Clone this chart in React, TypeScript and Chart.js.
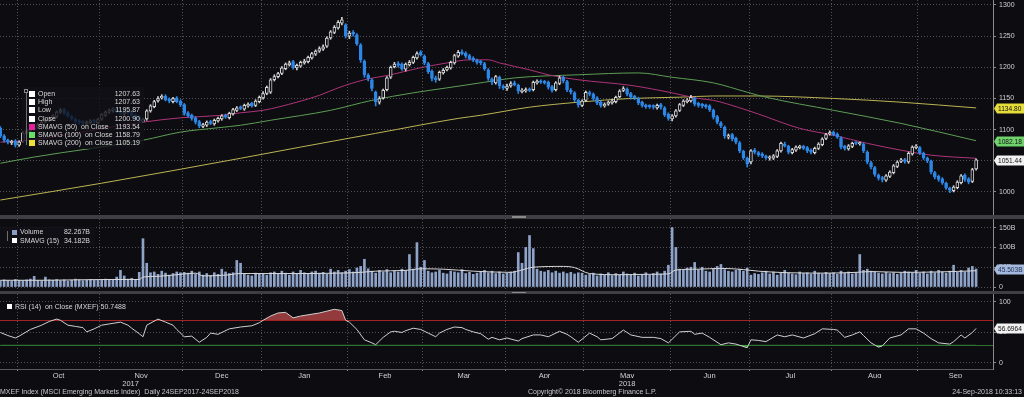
import React, { useEffect, useRef } from 'react';
import { Chart, registerables } from 'chart.js';

Chart.register(...registerables);

// ---------------- calendar (trading weekdays per month, Sep-2017 .. Sep-2018) ----------------
const tradingDaysPerMonth = [5, 22, 22, 21, 23, 20, 22, 21, 23, 21, 22, 23, 16];
const lastMonthWeekdays = 20;
const monthLabels = ['Oct', 'Nov', 'Dec', 'Jan', 'Feb', 'Mar', 'Apr', 'May', 'Jun', 'Jul', 'Aug', 'Sep'];
const yearLabels = ['2017', '2018'];

// ---------------- price (OHLC, daily) ----------------
const opens = [
  1102,1090,1083,1079,1082,
  1075,1081,1094,1098,1101,1104,1108,1113,1116,1119,1121,1128,1132,1127,1121,1117,1114,1113,1109,1111,1115,1111,
  1117,1123,1128,1131,1133,1130,1125,1129,1128,1123,1120,1113,1117,1130,1137,1146,1151,1154,1149,1145,1151,1146,
  1140,1127,1123,1119,1113,1105,1107,1113,1109,1114,1117,1123,1119,1125,1131,1136,1133,1138,1142,1139,1145,
  1151,1158,1160,1180,1185,1190,1198,1204,1209,1199,1202,1207,1209,1215,1221,1226,1229,1234,1247,1256,1263,1271,1268,
  1250,1256,1252,1236,1210,1187,1180,1160,1144,1151,1164,1184,1201,1206,1205,1197,1204,1208,1215,1224,
  1218,1206,1194,1183,1181,1191,1196,1199,1207,1218,1225,1223,1219,1215,1211,1209,1206,1196,1181,1175,1184,1169,
  1166,1170,1175,1171,1161,1162,1165,1164,1175,1178,1177,1176,1169,1164,1174,1184,1177,1163,1159,1147,1139,
  1147,1159,1157,1151,1144,1138,1141,1143,1145,1153,1163,1165,1158,1153,1150,1144,1138,1138,1138,1135,1140,1135,1125,
  1117,1122,1131,1139,1145,1146,1150,1142,1140,1139,1138,1131,1121,1111,1104,1088,1092,1086,1079,1065,1054,
  1048,1067,1063,1061,1057,1054,1054,1057,1066,1077,1073,1063,1067,1071,1073,1071,1067,1063,1070,1076,1086,1093,
  1096,1093,1087,1073,1069,1073,1079,1077,1077,1064,1047,1039,1027,1023,1019,1025,1031,1041,1049,1052,1048,1061,1071,
  1071,1062,1054,1049,1031,1025,1021,1014,1006,1002,1007,1015,1027,1021,1017,1037,
];
const highs = [
  1105,1092,1085,1083,1084,
  1082,1097,1100,1103,1105,1110,1114,1118,1120,1124,1130,1134,1134,1129,1123,1119,1116,1115,1114,1116,1117,1118,
  1126,1130,1133,1135,1135,1132,1130,1131,1130,1125,1122,1118,1132,1140,1147,1153,1156,1156,1151,1152,1153,1148,
  1142,1129,1125,1121,1115,1110,1114,1115,1117,1120,1124,1125,1128,1134,1137,1138,1141,1143,1144,1148,1154,
  1161,1170,1182,1188,1192,1201,1207,1210,1211,1205,1210,1213,1218,1224,1228,1233,1236,1249,1259,1267,1275,1280,1270,
  1258,1259,1254,1238,1212,1190,1182,1162,1153,1165,1185,1202,1208,1209,1207,1207,1211,1218,1225,1227,
  1220,1208,1196,1186,1194,1198,1202,1210,1221,1227,1228,1225,1221,1217,1213,1211,1208,1198,1183,1187,1186,1172,
  1173,1177,1178,1173,1166,1167,1167,1178,1180,1180,1179,1178,1171,1177,1186,1186,1179,1166,1161,1149,1148,
  1162,1162,1159,1153,1146,1143,1146,1149,1154,1164,1169,1167,1160,1155,1152,1146,1141,1140,1140,1141,1142,1137,1127,
  1124,1132,1142,1148,1150,1155,1152,1144,1142,1141,1140,1133,1123,1113,1106,1093,1094,1088,1081,1067,1056,
  1068,1070,1065,1063,1059,1058,1060,1068,1080,1080,1075,1070,1074,1075,1075,1073,1069,1072,1079,1087,1094,1098,
  1098,1095,1089,1075,1076,1080,1081,1080,1079,1066,1049,1041,1029,1025,1028,1034,1044,1050,1054,1054,1064,1074,1076,
  1073,1064,1056,1051,1033,1027,1023,1016,1008,1010,1018,1028,1029,1023,1038,1053,
];
const lows = [
  1087,1080,1077,1076,1072,
  1073,1079,1092,1096,1099,1102,1106,1111,1113,1117,1119,1126,1124,1120,1115,1110,1109,1107,1107,1109,1110,1109,
  1115,1121,1126,1128,1127,1124,1123,1125,1120,1116,1111,1111,1115,1128,1135,1144,1149,1146,1143,1143,1143,1137,
  1123,1120,1115,1109,1103,1103,1105,1108,1107,1112,1115,1118,1117,1123,1129,1132,1131,1136,1136,1137,1143,
  1149,1156,1158,1178,1183,1188,1196,1202,1197,1196,1200,1205,1207,1213,1219,1224,1227,1232,1245,1254,1261,1268,1247,
  1246,1250,1235,1208,1184,1178,1162,1138,1141,1149,1162,1182,1199,1200,1195,1194,1202,1206,1213,1218,
  1204,1190,1178,1176,1179,1189,1194,1197,1205,1216,1220,1215,1212,1209,1205,1204,1195,1179,1172,1173,1166,1164,
  1163,1168,1170,1158,1159,1160,1161,1162,1173,1174,1173,1165,1160,1162,1172,1175,1161,1157,1145,1136,1137,
  1145,1154,1147,1140,1136,1136,1139,1141,1143,1151,1161,1154,1149,1148,1140,1136,1134,1134,1133,1133,1133,1121,1115,
  1114,1120,1129,1137,1143,1144,1138,1136,1135,1134,1129,1117,1109,1103,1086,1085,1082,1077,1063,1052,1040,
  1045,1061,1057,1055,1052,1051,1052,1055,1064,1072,1061,1061,1065,1069,1068,1063,1061,1061,1068,1074,1084,1091,
  1090,1086,1069,1067,1067,1071,1076,1075,1063,1045,1037,1025,1019,1016,1017,1023,1029,1039,1047,1046,1046,1059,1069,
  1060,1052,1047,1029,1021,1017,1012,1004,999,1000,1005,1013,1017,1013,1015,1035,
];
const closes = [
  1090,1083,1080,1080,1075,
  1080,1095,1098,1100,1103,1108,1112,1115,1118,1122,1128,1131,1126,1122,1118,1113,1112,1110,1112,1114,1112,1116,
  1124,1128,1130,1132,1129,1126,1128,1127,1122,1118,1114,1116,1130,1138,1145,1150,1152,1148,1146,1150,1145,1140,
  1126,1122,1118,1112,1106,1108,1112,1110,1115,1118,1122,1120,1126,1132,1135,1134,1139,1140,1138,1146,1152,
  1158,1168,1180,1185,1190,1199,1205,1207,1200,1203,1208,1210,1216,1222,1226,1230,1233,1247,1257,1264,1272,1276,1250,
  1255,1253,1238,1212,1188,1182,1166,1145,1150,1163,1183,1200,1205,1203,1198,1205,1208,1216,1222,1220,
  1207,1193,1182,1180,1192,1195,1200,1208,1219,1224,1222,1218,1214,1212,1208,1207,1198,1182,1176,1185,1170,1167,
  1170,1174,1172,1162,1163,1164,1163,1176,1177,1176,1175,1168,1163,1175,1183,1178,1164,1160,1148,1140,1146,
  1160,1157,1150,1143,1139,1140,1144,1146,1152,1162,1166,1157,1152,1151,1143,1139,1137,1137,1136,1139,1136,1124,1118,
  1122,1130,1140,1146,1147,1152,1141,1139,1138,1137,1132,1120,1112,1106,1090,1090,1085,1080,1066,1055,1045,
  1066,1064,1060,1058,1055,1055,1058,1066,1078,1074,1064,1068,1072,1072,1070,1066,1064,1070,1077,1085,1092,1095,
  1092,1088,1072,1070,1074,1078,1078,1078,1066,1048,1040,1028,1022,1020,1026,1032,1042,1048,1051,1049,1062,1072,1073,
  1063,1055,1050,1032,1024,1020,1015,1007,1003,1008,1016,1026,1020,1016,1036,1051.44,
];

// moving averages on close (at these day indexes)
const sma50Idx = [0,6,38,48,59,64,70,79,85,90,97,104,111,119,125,130,133,141,146,154,168,179,186,190,197,202,213,222,231,240,248,260];
const sma50Val = [1080,1082,1112,1119,1123,1127,1131,1144,1155,1167,1180,1188,1198,1207,1212,1212,1207,1196,1188,1180,1171,1159,1150,1147,1135,1125,1102,1091,1078,1067,1059,1054];
const sma100Idx = [0,9,38,48,58,64,72,88,99,110,119,129,137,154,170,179,190,199,204,222,240,260];
const sma100Val = [1046,1056,1083,1096,1103,1107,1115,1131,1147,1159,1167,1176,1183,1188,1191,1184,1175,1160,1152,1131,1110,1082.18];
const sma200Idx = [0,27,64,80,100,122,128,141,154,168,181,190,202,222,240,260];
const sma200Val = [987,1014,1054,1072,1094,1118,1123,1136,1144,1150,1152,1154,1154,1150,1144,1134.8];

// ---------------- volume (billions) ----------------
const volumes = [
  16,18,17,15,19,
  17,16,18,20,27,17,16,25,18,17,19,16,18,15,17,20,18,16,17,19,18,17,
  18,20,17,19,25,42,28,20,22,18,37,122,60,36,38,32,40,35,30,34,38,36,
  37,35,40,33,38,30,34,29,36,32,45,38,34,36,67,60,33,30,28,35,32,
  34,30,36,38,33,40,35,30,38,34,42,36,33,38,40,35,37,32,45,38,42,36,40,
  44,38,48,52,70,46,40,35,42,38,44,36,40,38,45,42,82,45,112,50,
  67,40,36,38,42,35,33,40,38,36,44,34,37,32,35,38,42,36,40,34,38,33,
  35,38,40,87,60,100,130,97,45,40,38,42,36,40,35,38,34,37,33,36,35,
  30,32,35,28,33,30,36,29,34,31,38,33,30,35,28,32,36,30,34,38,33,40,55,
  150,100,45,42,48,50,62,44,50,40,38,46,52,57,44,40,38,42,45,40,48,
  30,34,32,36,40,33,38,30,35,42,36,33,31,38,34,36,32,40,35,33,37,34,
  36,32,40,35,38,33,36,82,42,45,40,38,35,33,37,34,36,32,35,40,38,36,42,
  35,38,33,40,36,42,38,35,40,55,37,42,38,48,52,45.503,
];
const volSmaIdx = [0,10,20,30,37,38,42,48,52,54,60,64,70,80,90,96,100,108,112,118,126,136,139,142,150,153,157,165,172,178,180,186,192,198,202,210,220,228,232,240,250,260];
const volSmaVal = [17,17,18,19,19,25,27,32,35,28,30,34,34,34,35,37,40,42,46,45,40,37,43,50,52,49,34,31,32,33,43,45,47,44,40,36,35,37,39,37,38,41];

// ---------------- RSI (14) ----------------
const rsiIdx = [0,2,4,5,8,11,13,15,16,18,20,22,23,25,27,30,32,34,35,37,38,39,42,44,46,47,49,51,53,55,56,58,61,64,67,69,70,72,74,76,78,80,82,85,87,89,91,92,93,95,97,99,100,102,104,105,107,108,110,112,114,116,117,119,121,123,124,126,128,130,131,133,135,138,139,142,144,146,149,151,152,154,157,159,160,163,166,168,171,174,176,178,181,184,185,187,189,192,194,196,199,200,202,204,207,209,211,214,217,219,222,223,225,227,229,230,232,234,235,237,240,242,244,246,248,250,253,254,256,257,259,260];
const rsiVal = [50,45,41,44,55,62,68,72,70,62,60,58,51,56,62,65,67,62,57,48,43,62,72,67,62,55,43,44,34,42,49,47,56,59,61,66,70,77,82,83,74,77,79,82,85,88,86,70,67,55,38,33,30,42,51,52,50,53,57,55,49,43,49,55,59,58,55,51,48,39,42,38,41,36,40,46,46,43,52,47,43,34,49,43,38,40,54,46,42,42,40,33,51,52,47,49,42,30,33,31,25,38,37,35,46,43,46,41,48,56,55,54,42,46,51,45,33,26,28,41,46,56,56,49,40,33,31,35,46,41,50,56.6964];
const rsiUpper = 70;
const rsiLower = 30;

// ---------------- axis ticks ----------------
const priceTicks = [1000, 1050, 1100, 1150, 1200, 1250, 1300];
const volTicks = [0, 50, 100, 150];
const rsiTicks = [0, 50, 100];

// ---------------- texts ----------------
const priceLegendLabels = ['Open', 'High', 'Low', 'Close', 'SMAVG (50)  on Close', 'SMAVG (100)  on Close', 'SMAVG (200)  on Close'];
const priceLegendValues = ['1207.63', '1207.63', '1195.87', '1200.90', '1193.54', '1158.79', '1105.19'];
const volLegendLabels = ['Volume', 'SMAVG (15)'];
const volLegendValues = ['82.267B', '34.182B'];
const rsiLegend = 'RSI (14)  on Close (MXEF) 50.7488';
const footerLeft = 'MXEF Index (MSCI Emerging Markets Index)  Daily 24SEP2017-24SEP2018';
const footerCenter = 'Copyright\u00A9 2018 Bloomberg Finance L.P.';
const footerRight = '24-Sep-2018 10:33:13';

// ---------------- styling ----------------
const FONT = "'Liberation Sans', Arial, Helvetica, sans-serif";
const BG = '#0c0c11';
const GRID = '#505058';
const AXIS = '#8c8c8c';
const TXT = '#d2d2d2';
const BLUE = '#2d87e6';
const UPC = '#d4d4d4';
const C50 = '#b0347a';
const C100 = '#5e9e56';
const C200 = '#bdb455';
const VOLC = '#8fa3c9';

// ---------------- derived x layout ----------------
const X_MIN = -0.1;
const bounds: number[] = [];
{
  let acc = -0.5;
  tradingDaysPerMonth.forEach((d) => { bounds.push(acc); acc += d; });
}
const monthBounds = bounds.slice(1);
const X_MAX = monthBounds[monthBounds.length - 1] + lastMonthWeekdays;
const monthMids = monthBounds.map((b, k) => (b + (k < monthBounds.length - 1 ? monthBounds[k + 1] : X_MAX)) / 2);
const yearBound = monthBounds[3];
const yearMids = [(X_MIN + yearBound) / 2, (yearBound + X_MAX) / 2];
const key = (v: number) => Number(v).toFixed(3);
const boundSet = new Set(monthBounds.map(key));
const monthLabelMap = new Map(monthMids.map((m, k) => [key(m), monthLabels[k]]));
const yearLabelMap = new Map(yearMids.map((m, k) => [key(m), yearLabels[k]]));

const pts = (xs: number[], ys: number[]) => xs.map((x, k) => ({ x, y: ys[k] }));

function yAxis(min: number, max: number, ticks: number[], fmt: (v: number) => string) {
  return {
    type: 'linear',
    position: 'right',
    min,
    max,
    afterBuildTicks: (s: any) => { s.ticks = ticks.map((v) => ({ value: v })); },
    afterFit: (s: any) => { s.width = 31; s.paddingTop = 0; s.paddingBottom = 0; },
    grid: { color: GRID, lineWidth: 1, drawTicks: true, tickLength: 3, tickColor: AXIS },
    border: { display: true, color: AXIS, dash: [1, 2] },
    ticks: { color: TXT, padding: 3, font: { size: 7, family: FONT }, callback: (v: any) => fmt(Number(v)) },
  };
}

function xGridOnly() {
  return {
    type: 'linear',
    min: X_MIN,
    max: X_MAX,
    offset: false,
    afterBuildTicks: (s: any) => { s.ticks = monthBounds.map((v) => ({ value: v })); },
    afterFit: (s: any) => { s.height = 0; s.paddingLeft = 0; s.paddingRight = 0; },
    grid: { color: GRID, offset: false, drawTicks: false },
    border: { display: false, dash: [1, 2] },
    ticks: { display: false },
  };
}

function tagPlugin(tags: { value: number; text: string; bg: string; fg: string }[]) {
  return {
    id: 'valueTags',
    afterDraw(chart: any) {
      const { ctx, chartArea, scales } = chart;
      ctx.save();
      ctx.font = `6.6px ${FONT}`;
      for (const t of tags) {
        const y = Math.round(scales.y.getPixelForValue(t.value)) + 0.5;
        const x0 = chartArea.right + 1;
        const h = 10;
        ctx.beginPath();
        ctx.moveTo(x0, y);
        ctx.lineTo(x0 + 3, y - h / 2);
        ctx.lineTo(chart.width, y - h / 2);
        ctx.lineTo(chart.width, y + h / 2);
        ctx.lineTo(x0 + 3, y + h / 2);
        ctx.closePath();
        ctx.fillStyle = t.bg;
        ctx.fill();
        ctx.fillStyle = t.fg;
        ctx.textBaseline = 'middle';
        ctx.textAlign = 'left';
        ctx.fillText(t.text, x0 + 4, y + 0.5);
      }
      ctx.restore();
    },
  };
}

const levelPlugin = {
  id: 'rsiLevels',
  beforeDatasetsDraw(chart: any) {
    const { ctx, chartArea: a, scales } = chart;
    const lines: [number, string][] = [[rsiUpper, '#a41f1f'], [rsiLower, '#2f7030']];
    ctx.save();
    for (const [v, c] of lines) {
      const py = Math.round(scales.y.getPixelForValue(v)) + 0.5;
      ctx.strokeStyle = c;
      ctx.lineWidth = 1.2;
      ctx.beginPath();
      ctx.moveTo(a.left, py);
      ctx.lineTo(a.right, py);
      ctx.stroke();
    }
    ctx.restore();
  },
};

const baseOptions = {
  responsive: false,
  animation: false,
  devicePixelRatio: 1,
  events: [],
  layout: { padding: 0 },
  plugins: { legend: { display: false }, tooltip: { enabled: false } },
};

const lastIdx = closes.length - 1;
const isUp = (i: number) => closes[i] >= opens[i];

function priceConfig(): any {
  return {
    type: 'bar',
    data: {
      datasets: [
        { type: 'line', data: pts(sma200Idx, sma200Val), borderColor: C200, borderWidth: 1, pointRadius: 0, cubicInterpolationMode: 'monotone', order: 5 },
        { type: 'line', data: pts(sma100Idx, sma100Val), borderColor: C100, borderWidth: 1, pointRadius: 0, cubicInterpolationMode: 'monotone', order: 4 },
        { type: 'line', data: pts(sma50Idx, sma50Val), borderColor: C50, borderWidth: 1, pointRadius: 0, cubicInterpolationMode: 'monotone', order: 3 },
        {
          type: 'bar',
          data: closes.map((_, i) => ({ x: i, y: [lows[i], highs[i]] })),
          barThickness: 1,
          grouped: false,
          backgroundColor: (c: any) => (isUp(c.dataIndex) ? UPC : BLUE),
          order: 2,
        },
        {
          type: 'bar',
          data: closes.map((c, i) => ({ x: i, y: [opens[i], c] })),
          barThickness: 3,
          grouped: false,
          minBarLength: 1.5,
          borderSkipped: false,
          borderWidth: 1,
          backgroundColor: (c: any) => (isUp(c.dataIndex) ? BG : BLUE),
          borderColor: (c: any) => (isUp(c.dataIndex) ? UPC : BLUE),
          order: 1,
        },
      ],
    },
    options: {
      ...baseOptions,
      scales: {
        x: xGridOnly(),
        y: yAxis(963, 1308, priceTicks, (v) => String(v)),
      },
    },
    plugins: [
      tagPlugin([
        { value: sma200Val[sma200Val.length - 1], text: sma200Val[sma200Val.length - 1].toFixed(2), bg: '#e6dc3a', fg: '#111' },
        { value: sma100Val[sma100Val.length - 1], text: sma100Val[sma100Val.length - 1].toFixed(2), bg: '#6fd26c', fg: '#111' },
        { value: closes[lastIdx], text: closes[lastIdx].toFixed(2), bg: '#f2f2f2', fg: '#111' },
      ]),
    ],
  };
}

function volumeConfig(): any {
  return {
    type: 'bar',
    data: {
      datasets: [
        { type: 'line', data: pts(volSmaIdx, volSmaVal), borderColor: '#d8d8d8', borderWidth: 1, pointRadius: 0, cubicInterpolationMode: 'monotone', order: 1 },
        { type: 'bar', data: volumes.map((v, i) => ({ x: i, y: v })), barThickness: 2, grouped: false, backgroundColor: VOLC, order: 2 },
      ],
    },
    options: {
      ...baseOptions,
      scales: {
        x: xGridOnly(),
        y: yAxis(-10.1, 171.7, volTicks, (v) => (v === 0 ? '0' : `${v}B`)),
      },
    },
    plugins: [
      tagPlugin([{ value: volumes[lastIdx], text: `${volumes[lastIdx].toFixed(3)}B`, bg: '#a5b9de', fg: '#1d2c50' }]),
    ],
  };
}

function rsiConfig(): any {
  const data = pts(rsiIdx, rsiVal);
  const isB = (c: any) => c.tick && boundSet.has(key(c.tick.value));
  return {
    type: 'line',
    data: {
      datasets: [
        {
          data,
          borderColor: '#d0d0d0',
          borderWidth: 1,
          pointRadius: 0,
          tension: 0,
          fill: { target: { value: rsiUpper }, above: 'rgba(160,64,64,0.92)', below: 'rgba(0,0,0,0)' },
        },
        {
          data,
          borderColor: 'rgba(0,0,0,0)',
          borderWidth: 0,
          pointRadius: 0,
          tension: 0,
          fill: { target: { value: rsiLower }, above: 'rgba(0,0,0,0)', below: 'rgba(60,170,60,0.9)' },
        },
      ],
    },
    options: {
      ...baseOptions,
      scales: {
        x: {
          type: 'linear',
          position: 'bottom',
          weight: 0,
          min: X_MIN,
          max: X_MAX,
          offset: false,
          afterBuildTicks: (s: any) => {
            s.ticks = [...monthBounds, ...monthMids].sort((a, b) => a - b).map((v) => ({ value: v }));
          },
          afterFit: (s: any) => { s.height = 9; s.paddingLeft = 0; s.paddingRight = 0; },
          grid: {
            offset: false,
            drawTicks: true,
            tickLength: 2,
            color: (c: any) => (isB(c) ? GRID : 'rgba(0,0,0,0)'),
            tickColor: (c: any) => (isB(c) ? AXIS : 'rgba(0,0,0,0)'),
          },
          border: { display: true, color: '#5a5a5a', dash: [1, 2] },
          ticks: {
            autoSkip: false,
            maxRotation: 0,
            minRotation: 0,
            padding: 0,
            color: TXT,
            font: { size: 7.5, family: FONT },
            callback: (v: any) => monthLabelMap.get(key(v)) || '',
          },
        },
        xYear: {
          type: 'linear',
          position: 'bottom',
          weight: 1,
          min: X_MIN,
          max: X_MAX,
          offset: false,
          afterBuildTicks: (s: any) => { s.ticks = yearMids.map((v) => ({ value: v })); },
          afterFit: (s: any) => { s.height = 11; s.paddingLeft = 0; s.paddingRight = 0; },
          grid: { display: false, drawTicks: false },
          border: { display: false },
          ticks: {
            autoSkip: false,
            maxRotation: 0,
            padding: 1,
            color: TXT,
            font: { size: 7.5, family: FONT },
            callback: (v: any) => yearLabelMap.get(key(v)) || '',
          },
        },
        y: yAxis(-9.84, 113.1, rsiTicks, (v) => String(v)),
      },
    },
    plugins: [
      levelPlugin,
      tagPlugin([{ value: rsiVal[rsiVal.length - 1], text: rsiVal[rsiVal.length - 1].toFixed(4), bg: '#f2f2f2', fg: '#111' }]),
    ],
  };
}

function ChartCanvas({ top, height, build }: { top: number; height: number; build: () => any }) {
  const ref = useRef<HTMLCanvasElement | null>(null);
  useEffect(() => {
    const chart = new Chart(ref.current as HTMLCanvasElement, build());
    return () => chart.destroy();
  }, []);
  return (
    <canvas
      ref={ref}
      width={1024}
      height={height}
      style={{ position: 'absolute', left: 0, top, width: 1024, height, display: 'block' }}
    />
  );
}

const txt: React.CSSProperties = {
  position: 'absolute',
  fontFamily: FONT,
  fontSize: 7,
  lineHeight: '8px',
  height: 8,
  color: '#d8d8d8',
  whiteSpace: 'pre',
};

const priceSquareColors = ['#ffffff', '#ffffff', '#ffffff', '#ffffff', '#e0229c', '#68e068', '#ece236'];

export default function App() {
  return (
    <div style={{ position: 'absolute', left: 0, top: 0, width: 1024, height: 397, background: BG, overflow: 'hidden' }}>
      <ChartCanvas top={0} height={215} build={priceConfig} />
      <div style={{ position: 'absolute', left: 0, top: 215, width: 1024, height: 4, background: '#3e3e44' }} />
      <div style={{ position: 'absolute', left: 512, top: 216, width: 14, height: 2, background: '#8a8a8a' }} />
      <ChartCanvas top={219} height={72} build={volumeConfig} />
      <div style={{ position: 'absolute', left: 0, top: 291, width: 1024, height: 3, background: '#3e3e44' }} />
      <div style={{ position: 'absolute', left: 512, top: 292, width: 14, height: 1, background: '#8a8a8a' }} />
      <ChartCanvas top={294} height={95} build={rsiConfig} />

      {/* price legend */}
      <div style={{ position: 'absolute', left: 22, top: 87, width: 122, height: 62, background: 'rgba(16,16,22,0.8)' }} />
      <div style={{ position: 'absolute', left: 26, top: 92, width: 1, height: 53, background: '#6e6e6e' }} />
      <div style={{ position: 'absolute', left: 24, top: 89, width: 4, height: 4, border: '1px solid #8a8a8a', boxSizing: 'border-box' }} />
      {priceLegendLabels.map((label, k) => (
        <React.Fragment key={label}>
          <div style={{ position: 'absolute', left: 29, top: 91 + k * 8.2, width: 6, height: 6, background: priceSquareColors[k] }} />
          <div style={{ ...txt, left: 38, top: 90 + k * 8.2 }}>{label}</div>
          <div style={{ ...txt, right: 1024 - 140, top: 90 + k * 8.2, textAlign: 'right' }}>{priceLegendValues[k]}</div>
        </React.Fragment>
      ))}

      {/* volume legend */}
      <div style={{ position: 'absolute', left: 0, top: 227, width: 95, height: 19, background: 'rgba(16,16,22,0.8)' }} />
      <div style={{ position: 'absolute', left: 7, top: 231, width: 1, height: 10, background: '#6e6e6e' }} />
      {volLegendLabels.map((label, k) => (
        <React.Fragment key={label}>
          <div style={{ position: 'absolute', left: 12, top: 229.5 + k * 8.5, width: 5, height: 5, background: k === 0 ? '#8a9cc6' : '#ffffff' }} />
          <div style={{ ...txt, left: 20, top: 228 + k * 8.5 }}>{label}</div>
          <div style={{ ...txt, right: 1024 - 90, top: 228 + k * 8.5, textAlign: 'right' }}>{volLegendValues[k]}</div>
        </React.Fragment>
      ))}

      {/* RSI legend */}
      <div style={{ position: 'absolute', left: 7, top: 304, width: 5, height: 5, background: '#ffffff' }} />
      <div style={{ ...txt, left: 15, top: 303 }}>{rsiLegend}</div>

      {/* footer */}
      <div style={{ ...txt, left: 0, top: 388, color: '#c8c8c8' }}>{footerLeft}</div>
      <div style={{ ...txt, left: 528, top: 388, color: '#c8c8c8' }}>{footerCenter}</div>
      <div style={{ ...txt, right: 2, top: 388, color: '#c8c8c8', textAlign: 'right' }}>{footerRight}</div>
    </div>
  );
}
